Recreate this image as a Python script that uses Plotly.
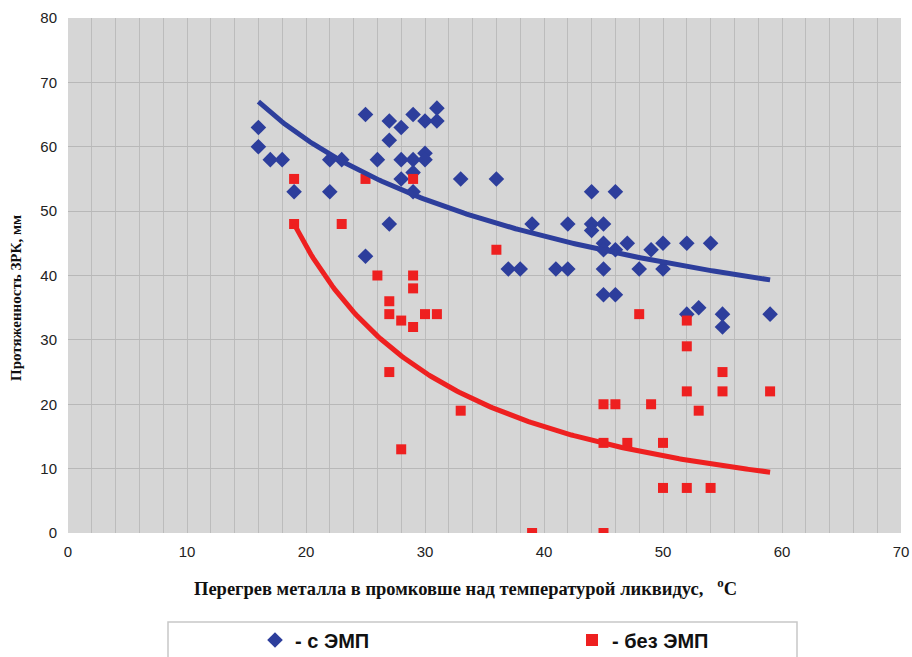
import numpy as np
import plotly.graph_objects as go

# --- data ---
emp_x = [16, 16, 17, 18, 19, 22, 22, 23, 25, 25, 26, 27, 27, 27, 28, 28, 28, 29, 29, 29, 29,
         30, 30, 30, 31, 31, 33, 36, 37, 38, 39, 41, 42, 42, 44, 44, 44, 45, 45, 45, 45, 45,
         46, 46, 46, 47, 48, 49, 50, 50, 52, 52, 53, 54, 55, 55, 59]
emp_y = [63, 60, 58, 58, 53, 58, 53, 58, 65, 43, 58, 64, 61, 48, 63, 58, 55, 65, 58, 56, 53,
         64, 59, 58, 66, 64, 55, 55, 41, 41, 48, 41, 48, 41, 53, 48, 47, 48, 45, 44, 41, 37,
         53, 44, 37, 45, 41, 44, 45, 41, 45, 34, 35, 45, 34, 32, 34]

noemp_x = [19, 19, 23, 25, 29, 26, 29, 29, 27, 27, 28, 29, 30, 31, 27, 28, 33, 36, 39, 45,
           45, 46, 45, 47, 48, 49, 50, 50, 52, 54, 52, 52, 52, 53, 55, 55, 59]
noemp_y = [55, 48, 48, 55, 55, 40, 40, 38, 36, 34, 33, 32, 34, 34, 25, 13, 19, 44, 0, 0,
           20, 20, 14, 14, 34, 20, 14, 7, 7, 7, 33, 29, 22, 19, 25, 22, 22]

# power trendlines y = a * x^b (coefficients)
emp_trend = [207.9, -0.4084]
noemp_trend = [3272.0, -1.434]

x_ticks = [0, 10, 20, 30, 40, 50, 60, 70]
y_ticks = [0, 10, 20, 30, 40, 50, 60, 70, 80]

BLUE = "#2d3e9c"
RED = "#ee2020"

def trend(xs, coef):
    xx = np.linspace(min(xs), max(xs), 200)
    return xx, coef[0] * xx ** coef[1]

fig = go.Figure()
fig.add_trace(go.Scatter(x=emp_x, y=emp_y, mode="markers", name="<b>- с ЭМП</b>",
                         legend="legend",
                         marker=dict(symbol="diamond", size=12, color=BLUE)))
fig.add_trace(go.Scatter(x=noemp_x, y=noemp_y, mode="markers", name="<b>- без ЭМП</b>",
                         legend="legend2",
                         marker=dict(symbol="square", size=10, color=RED)))
tx, ty = trend(emp_x, emp_trend)
fig.add_trace(go.Scatter(x=tx, y=ty, mode="lines", showlegend=False,
                         line=dict(color=BLUE, width=5), hoverinfo="skip"))
tx, ty = trend(noemp_x, noemp_trend)
fig.add_trace(go.Scatter(x=tx, y=ty, mode="lines", showlegend=False,
                         line=dict(color=RED, width=5), hoverinfo="skip"))

L, R, T, B = 68, 11, 18, 124
W, H = 912, 657
pw, ph = W - L - R, H - T - B

def px_x(p):
    return (p - L) / pw

def px_y(p):
    return (H - B - p) / ph

leg_font = dict(family="Liberation Sans, Arial", size=20, color="#111")
leg_common = dict(orientation="h", xanchor="left", yanchor="middle", y=px_y(640),
                  bgcolor="rgba(0,0,0,0)", font=leg_font, itemsizing="constant")

fig.update_layout(
    width=W, height=H,
    margin=dict(l=L, r=R, t=T, b=B, pad=0, autoexpand=False),
    paper_bgcolor="white",
    plot_bgcolor="#d6d6d6",
    font=dict(family="Liberation Sans, Arial", size=15, color="#222"),
    showlegend=True,
    legend=dict(x=px_x(255), **leg_common),
    legend2=dict(x=px_x(572), **leg_common),
    shapes=[dict(type="rect", xref="paper", yref="paper",
                 x0=px_x(168), x1=px_x(797), y0=px_y(622), y1=px_y(662),
                 line=dict(color="#c8c8c8", width=1.5), fillcolor="rgba(0,0,0,0)")],
    annotations=[
        dict(xref="paper", yref="paper", x=px_x(465), y=px_y(587), showarrow=False,
             xanchor="center", yanchor="middle",
             text="<b>Перегрев металла в промковше над температурой ликвидус,   <sup>o</sup>C</b>",
             font=dict(family="Liberation Serif, Times New Roman", size=18.5, color="#111")),
        dict(xref="paper", yref="paper", x=px_x(16), y=px_y(298), showarrow=False,
             xanchor="center", yanchor="middle", textangle=-90,
             text="<b>Протяженность ЗРК, мм</b>",
             font=dict(family="Liberation Serif, Times New Roman", size=15, color="#111")),
    ],
)
fig.update_xaxes(range=[0, 70], tickvals=x_ticks, showgrid=True, gridcolor="#bcbcbc", gridwidth=1,
                 minor=dict(dtick=2, showgrid=True, gridcolor="#bcbcbc", gridwidth=1),
                 zeroline=False, showline=False, ticks="", ticklabelstandoff=8,
                 tickfont=dict(size=15, color="#222"))
fig.update_yaxes(range=[0, 80], tickvals=y_ticks, showgrid=True, gridcolor="#b8b8b8", gridwidth=1,
                 zeroline=False, showline=False, ticks="", ticklabelstandoff=10,
                 tickfont=dict(size=15, color="#222"))

fig.write_html("out.html", config={"displayModeBar": False},
               post_script="document.body.style.margin='0px';document.body.style.overflow='hidden';")
